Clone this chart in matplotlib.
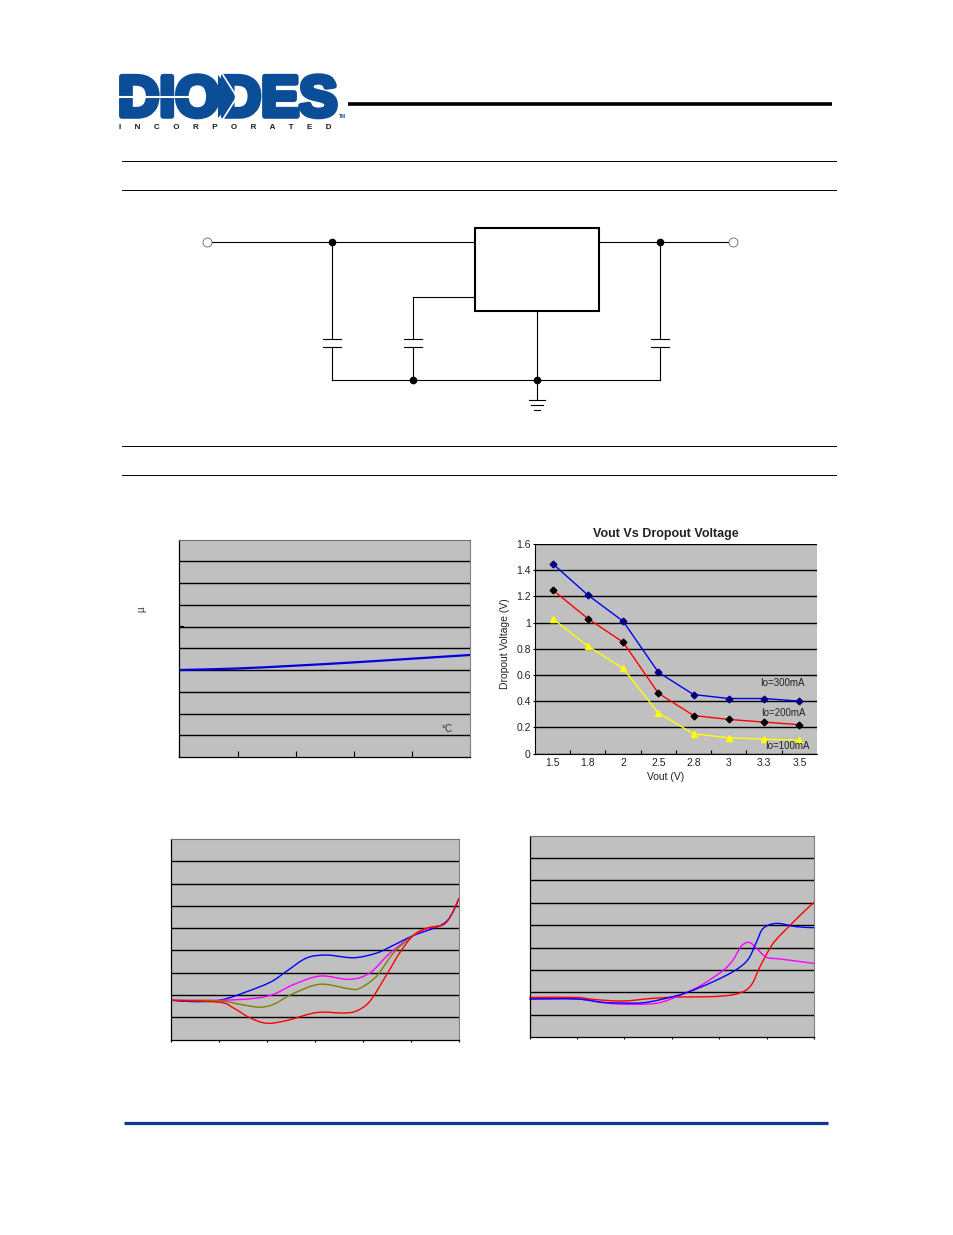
import numpy as np
import matplotlib
matplotlib.use("Agg")
import matplotlib.pyplot as plt
import matplotlib.patheffects as pe
from matplotlib.path import Path
from matplotlib.patches import PathPatch, Rectangle, Polygon

W = 954
H = 1235
GREY = "#c0c0c0"
LOGO = "#0b4d96"

plt.rcParams['font.family'] = ['Liberation Sans', 'DejaVu Sans']

# chart 1, flat blue line
c1_x = [0, 1, 2, 3, 4, 5]
c1_y = [4.0, 4.07, 4.2, 4.35, 4.52, 4.69]

# chart 2, Vout vs dropout
c2_labels = ["1.5", "1.8", "2", "2.5", "2.8", "3", "3.3", "3.5"]
c2_300 = [1.45, 1.21, 1.01, 0.62, 0.45, 0.42, 0.42, 0.40]
c2_200 = [1.25, 1.03, 0.85, 0.46, 0.29, 0.26, 0.24, 0.22]
c2_100 = [1.03, 0.82, 0.65, 0.31, 0.15, 0.12, 0.11, 0.10]

# chart 3
c3_blue_x = [0, 0.46, 1.0, 1.5, 2.06, 2.4, 2.82, 3.24, 3.8, 4.28, 4.65, 5.04, 5.53, 5.74, 5.88, 6]
c3_blue_y = [1.76, 1.70, 1.76, 2.09, 2.57, 3.06, 3.66, 3.79, 3.67, 3.88, 4.25, 4.66, 5.04, 5.30, 5.75, 6.34]
c3_mag_x = [0, 1.0, 1.71, 2.13, 2.54, 3.10, 3.72, 4.14, 4.56, 5.04, 5.32, 5.60]
c3_mag_y = [1.76, 1.76, 1.84, 2.03, 2.46, 2.85, 2.70, 2.99, 3.88, 4.66, 4.96, 5.10]
c3_olive_x = [0, 1.0, 1.5, 1.85, 2.13, 2.54, 3.10, 3.72, 3.93, 4.28, 4.63, 5.04, 5.32, 5.60]
c3_olive_y = [1.76, 1.73, 1.55, 1.45, 1.58, 2.06, 2.48, 2.27, 2.30, 2.84, 3.88, 4.66, 4.99, 5.10]
c3_red_x = [0, 1.0, 1.29, 1.64, 1.99, 2.40, 3.03, 3.58, 3.86, 4.14, 4.49, 4.76, 5.04, 5.32, 5.67, 5.84, 6]
c3_red_y = [1.76, 1.67, 1.42, 0.97, 0.73, 0.85, 1.21, 1.19, 1.28, 1.72, 2.91, 3.88, 4.66, 4.99, 5.15, 5.60, 6.34]

# chart 4
c4_red_x = [0, 0.99, 1.34, 1.97, 2.61, 3.17, 3.80, 4.29, 4.57, 4.72, 4.86, 5.14, 5.49, 5.77, 6.0]
c4_red_y = [1.77, 1.77, 1.68, 1.61, 1.73, 1.79, 1.80, 1.89, 2.10, 2.47, 3.14, 4.19, 4.98, 5.57, 6.02]
c4_blue_x = [0, 0.99, 1.55, 1.97, 2.40, 2.82, 3.31, 3.87, 4.33, 4.61, 4.79, 4.93, 5.21, 5.63, 6.0]
c4_blue_y = [1.70, 1.70, 1.55, 1.52, 1.53, 1.70, 1.98, 2.47, 2.97, 3.47, 4.26, 4.86, 5.08, 4.93, 4.89]
c4_mag_x = [0, 0.99, 1.55, 2.04, 2.68, 3.10, 3.59, 4.08, 4.29, 4.47, 4.63, 4.79, 5.0, 5.28, 6.0]
c4_mag_y = [1.70, 1.70, 1.53, 1.46, 1.51, 1.80, 2.28, 2.97, 3.44, 4.07, 4.23, 3.96, 3.56, 3.49, 3.29]


def px_axes(fig, left, top, right, bottom):
    return fig.add_axes([left / W, 1 - bottom / H, (right - left) / W, (bottom - top) / H])


def smooth(ax, x, y, color, lw=1.0):
    # excel style smoothed line, bezier through the points
    p = np.column_stack([x, y])
    p = np.vstack([p[0], p, p[-1]])
    verts = [p[1]]
    codes = [Path.MOVETO]
    for i in range(1, len(p) - 2):
        verts += [p[i] + (p[i + 1] - p[i - 1]) / 6, p[i + 1] - (p[i + 2] - p[i]) / 6, p[i + 1]]
        codes += [Path.CURVE4] * 3
    ax.add_patch(PathPatch(Path(verts, codes), fc="none", ec=color, lw=lw, clip_on=False))


def plain_chart(ax, xmax, ymax, tickdir="out", ticklen=1.5):
    ax.set_facecolor(GREY)
    ax.set_xlim(0, xmax)
    ax.set_ylim(0, ymax)
    ax.set_xticks(range(xmax + 1))
    ax.set_yticks(range(ymax + 1))
    ax.tick_params(labelbottom=False, labelleft=False, left=False, bottom=True, direction=tickdir, length=ticklen, width=0.8)
    for y in range(1, ymax):
        ax.plot([0, xmax], [y, y], color="black", lw=1.0, solid_capstyle="butt", zorder=1)
    ax.spines["top"].set_color("#707070")
    ax.spines["right"].set_color("#808080")
    ax.spines["left"].set_linewidth(0.9)
    ax.spines["bottom"].set_linewidth(0.9)


fig = plt.figure(figsize=(W / 100, H / 100), dpi=100, facecolor="white")

# page furniture, in pixel coordinates
page = fig.add_axes([0, 0, 1, 1])
page.set_xlim(0, W)
page.set_ylim(H, 0)
page.axis("off")

# logo
page.text(118, 116, "DIODES", fontsize=41.2, fontweight="bold", color=LOGO, ha="left", va="baseline",
          path_effects=[pe.withStroke(linewidth=4, foreground=LOGO)])
page.add_patch(Polygon([[218, 75], [235, 97], [218, 118]], fc=LOGO, ec="none", zorder=3))
page.plot([223, 237, 223], [75, 97, 119], color="white", lw=1.2, zorder=4)
page.plot([119, 190], [97, 97], color="white", lw=1.5, zorder=4)
page.text(119, 129, "I      N      C      O      R      P      O      R      A      T      E      D", fontsize=5.8,
          fontweight="bold", color="#1a1a1a", ha="left", va="baseline")
page.text(339, 118, "TM", fontsize=3.5, fontweight="bold", color=LOGO, ha="left", va="baseline")

page.plot([348, 832], [103.5, 103.5], color="black", lw=2.6, solid_capstyle="butt")
for y in [161, 190, 446, 475]:
    page.plot([122, 836], [y, y], color="black", lw=0.7)
page.plot([124, 828], [1122.5, 1122.5], color="#0b3a8c", lw=2.3, solid_capstyle="butt")

# circuit
wires = [
    ([207, 475], [242, 242]),
    ([599, 733], [242, 242]),
    ([332, 332], [242, 339]),
    ([332, 332], [347, 380]),
    ([660, 660], [242, 339]),
    ([660, 660], [347, 380]),
    ([332, 660], [380, 380]),
    ([413, 413], [347, 380]),
    ([413, 413], [339, 297]),
    ([413, 475], [297, 297]),
    ([537, 537], [311, 400]),
]
for wx, wy in wires:
    page.plot(wx, wy, color="black", lw=0.8)
for cx in [332, 413, 660]:
    for cy in [339, 346.5]:
        page.plot([cx - 9, cx + 9], [cy, cy], color="black", lw=0.8)
page.add_patch(Rectangle((475, 228), 124, 83, fc="white", ec="black", lw=1.5, zorder=3))
for half, gy in [(8, 400), (6, 405), (3, 410)]:
    page.plot([537 - half, 537 + half], [gy, gy], color="black", lw=0.8)
page.plot([332, 660, 413, 537], [242, 242, 380, 380], "o", color="black", ms=4.5, ls="none")
page.plot([207, 733], [242, 242], "o", mfc="white", mec="#666666", mew=0.6, ms=6.5, ls="none")

# chart 1
ax1 = px_axes(fig, 179.5, 539.5, 470, 757)
plain_chart(ax1, 5, 10, tickdir="in", ticklen=4)
smooth(ax1, c1_x, c1_y, "#0000e0", lw=1.6)
ax1.plot([0, 0.07], [10, 10], color="black", lw=1.2, solid_capstyle="butt")
ax1.plot([0, 0.07], [6, 6], color="black", lw=1.5, solid_capstyle="butt")
ax1.text(4.6, 1.27, "°C", fontsize=7, color="#333333", ha="center", va="center")
page.text(141, 609, "µ", fontsize=7, rotation=90, color="#333333", ha="center", va="center")

# chart 2
ax2 = px_axes(fig, 535, 544, 817, 753.5)
ax2.set_facecolor(GREY)
pos = np.arange(len(c2_labels))
ax2.set_xlim(-0.5, 7.5)
ax2.set_ylim(0, 1.6)
ax2.set_yticks(np.arange(0, 1.61, 0.2), ["0", "0.2", "0.4", "0.6", "0.8", "1", "1.2", "1.4", "1.6"])
ax2.set_xticks(pos, c2_labels)
ax2.set_xticks(pos[:-1] + 0.5, minor=True)
ax2.tick_params(axis="x", which="major", length=0, labelsize=7.5, pad=3.5, labelcolor="#222222")
ax2.tick_params(axis="x", which="minor", direction="in", length=3, width=0.8)
ax2.tick_params(axis="y", length=1.5, width=0.8, labelsize=7.5, pad=1.5, labelcolor="#222222")
ax2.grid(axis="y", color="black", lw=1.0)
ax2.set_axisbelow(True)
ax2.spines["top"].set_visible(False)
ax2.spines["right"].set_visible(False)
ax2.plot(pos, c2_300, color="#0000f0", lw=1, marker="D", ms=3.4, mfc="#000080", mec="#000080", clip_on=False)
ax2.plot(pos, c2_200, color="#ff0000", lw=1, marker="D", ms=3.4, mfc="black", mec="black", clip_on=False)
ax2.plot(pos, c2_100, color="#ffff00", lw=1, marker="^", ms=4.3, mfc="#ffff00", mec="#ffff00", clip_on=False)
ax2.text(6.52, 0.54, "Io=300mA", fontsize=7, color="#222222", ha="center", va="center")
ax2.text(6.55, 0.31, "Io=200mA", fontsize=7, color="#222222", ha="center", va="center")
ax2.text(6.65, 0.06, "Io=100mA", fontsize=7, color="#222222", ha="center", va="center")
page.text(665.5, 777.5, "Vout (V)", fontsize=7.5, color="#222222", ha="center", va="center")
page.text(505.5, 644, "Dropout Voltage (V)", fontsize=7.5, color="#222222", rotation=90, ha="center", va="center")
page.text(665.5, 533.5, "Vout Vs Dropout Voltage", fontsize=9, fontweight="bold", color="#222222", ha="center", va="center")

# chart 3
ax3 = px_axes(fig, 171.5, 839, 459, 1039.5)
plain_chart(ax3, 6, 9)
smooth(ax3, c3_blue_x, c3_blue_y, "#0000ff")
smooth(ax3, c3_mag_x, c3_mag_y, "#ff00ff")
smooth(ax3, c3_olive_x, c3_olive_y, "#808000")
smooth(ax3, c3_red_x, c3_red_y, "#ff0000")

# chart 4
ax4 = px_axes(fig, 529.5, 835.7, 814, 1037)
plain_chart(ax4, 6, 9)
smooth(ax4, c4_red_x, c4_red_y, "#ff0000")
smooth(ax4, c4_mag_x, c4_mag_y, "#ff00ff")
smooth(ax4, c4_blue_x, c4_blue_y, "#0000ff")

fig.savefig("out.png", dpi=100)
